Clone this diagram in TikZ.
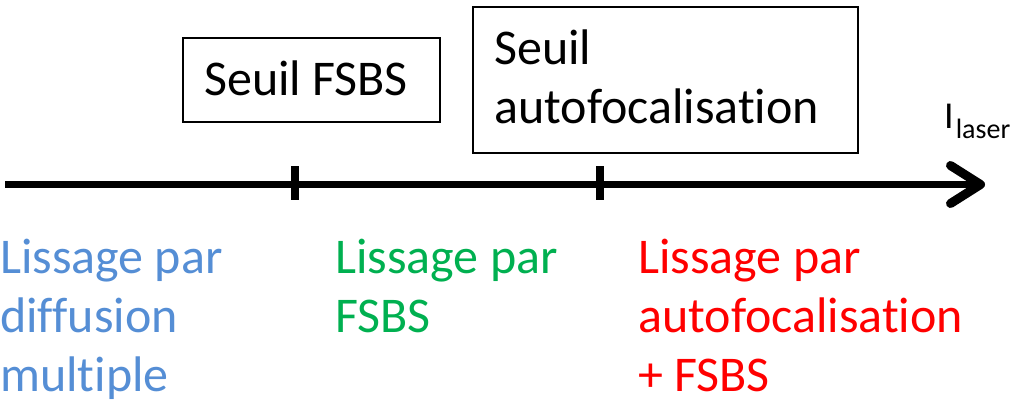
\documentclass[tikz,border=0pt]{standalone}
\usepackage{fontspec}
\setmainfont[Ligatures=NoCommon]{Carlito}
\usetikzlibrary{arrows.meta}
\definecolor{cblue}{RGB}{85,142,213}
\definecolor{cgreen}{RGB}{0,176,80}
\definecolor{cred}{RGB}{255,0,0}
\begin{document}
\begin{tikzpicture}[x=1pt,y=-1pt,
  lbl/.style={anchor=base west,inner sep=0pt,align=left,font=\fontsize{50}{59}\selectfont},
  thr/.style={draw,line width=2pt,inner sep=0pt},
  tick/.style={line width=8pt}]
\useasboundingbox (0,0) rectangle (1015,410);
% axis
\coordinate (a0) at (5,184.5);
\coordinate (a1) at (985,184.5);
\draw[line width=7pt,-{Straight Barb[length=30pt,width=38pt,line width=9pt,round]}] (a0) -- (a1);
\coordinate (t1a) at (295,166); \coordinate (t1b) at (295,200);
\coordinate (t2a) at (600,166); \coordinate (t2b) at (600,200);
\draw[tick] (t1a) -- (t1b);
\draw[tick] (t2a) -- (t2b);
% threshold boxes
\node[thr,minimum width=257pt,minimum height=84pt,anchor=north west] (b1) at (182,37) {};
\node[lbl] (b1t) at (204,95) {Seuil FSBS};
\node[thr,minimum width=385pt,minimum height=146pt,anchor=north west] (b2) at (472,6) {};
\node[lbl] (b2t) at (494,123) {Seuil\\autofocalisation};
% axis label
\node[anchor=base west,inner sep=0pt] (il) at (944,128) {\fontsize{38}{40}\selectfont I\hspace{2pt}\raisebox{-10pt}{\fontsize{28}{30}\selectfont laser}};
% regimes
\node[lbl,text=cblue] (r1) at (0,391) {Lissage par\\diffusion\\multiple};
\node[lbl,text=cgreen] (r2) at (335,332) {Lissage par\\FSBS};
\node[lbl,text=cred] (r3) at (638,391) {Lissage par\\autofocalisation\\+ FSBS};
\end{tikzpicture}
\end{document}
